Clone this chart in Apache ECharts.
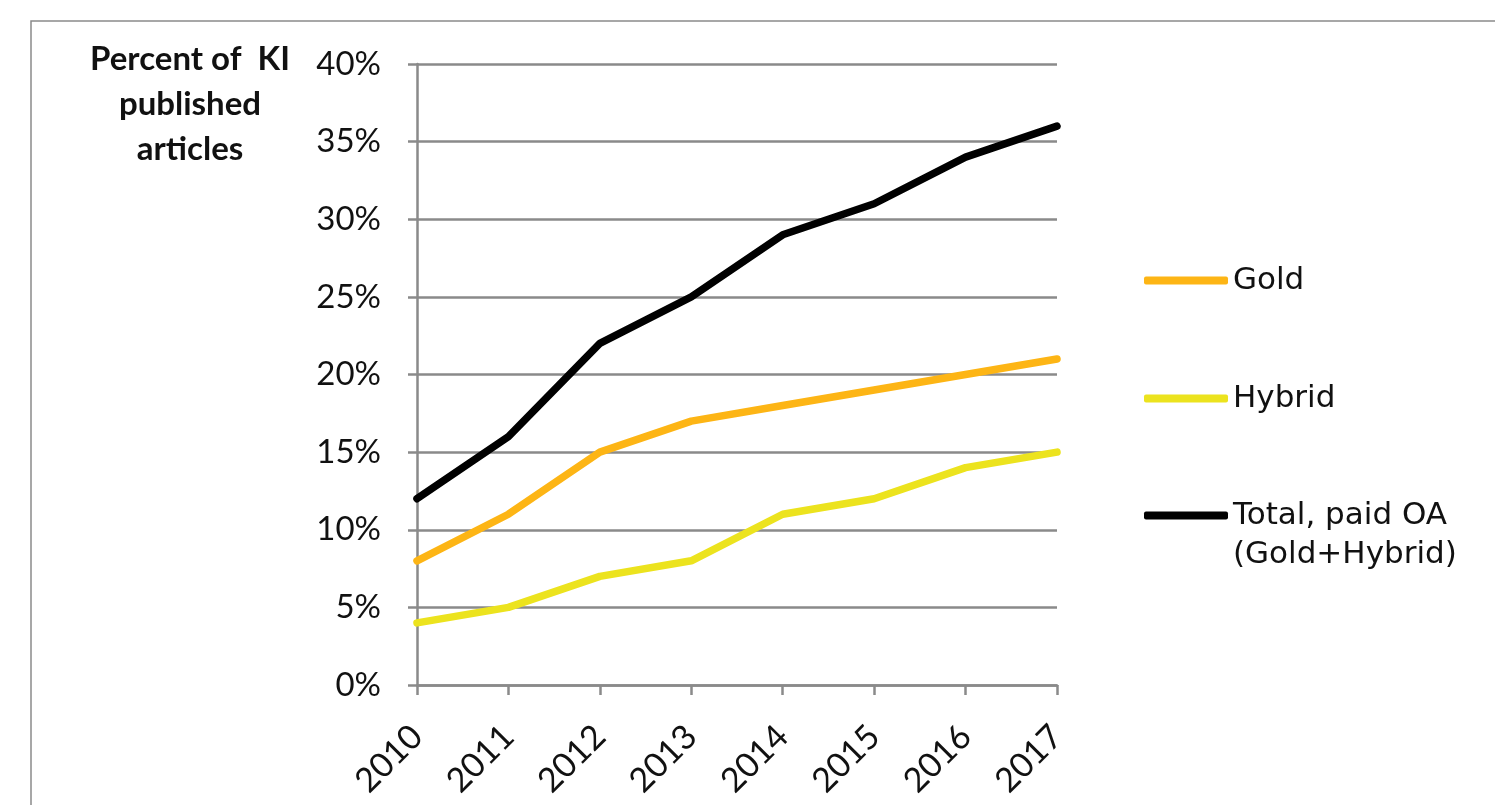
<!DOCTYPE html>
<html><head><meta charset="utf-8">
<script src="https://cdn.jsdelivr.net/npm/echarts@6/dist/echarts.min.js"></script>
<style>html,body{margin:0;padding:0;background:#fff}#c{width:1495px;height:805px}</style>
</head><body><div id="c"></div>
<script>
const years = ['2010','2011','2012','2013','2014','2015','2016','2017'];
const gold = [8, 11, 15, 17, 18, 19, 20, 21];
const hybrid = [4, 5, 7, 8, 11, 12, 14, 15];
const total = [12, 16, 22, 25, 29, 31, 34, 36];
const yTicks = [0, 5, 10, 15, 20, 25, 30, 35, 40];
const seriesNames = ['Gold', 'Hybrid', 'Total, paid OA\n(Gold+Hybrid)'];

const chart = echarts.init(document.getElementById('c'));
const legendText = {fontFamily: 'DejaVu Sans', fontSize: 31, color: '#111', lineHeight: 39};
function mkLegend(name, top, fmt) {
  return {
    orient: 'vertical', left: 1144, top: top, data: [name],
    icon: 'roundRect', itemWidth: 84, itemHeight: 8, itemGap: 0,
    textStyle: legendText, padding: 0, selectedMode: false,
    formatter: fmt
  };
}
chart.setOption({
  animation: false,
  grid: {left: 417, right: 438, top: 64, bottom: 120, containLabel: false},
  graphic: [
    {type: 'rect', shape: {x: 31, y: 21, width: 1600, height: 1000},
     style: {fill: 'none', stroke: '#8a8a8a', lineWidth: 1.5}, silent: true},
    {type: 'text', style: {
      text: 'Percent of  KI\npublished\narticles', x: 190, y: 37, align: 'center',
      font: 'bold 33px Lato', lineHeight: 45, fill: '#111'}}
  ],
  legend: [
    mkLegend(seriesNames[0], 261),
    mkLegend(seriesNames[1], 379),
    mkLegend(seriesNames[2], 457, function (n) { return ' \n' + n; })
  ],
  xAxis: {
    type: 'category', data: years, boundaryGap: false,
    axisLine: {lineStyle: {color: '#8a8a8a', width: 2.5}},
    axisTick: {show: true, length: 10, alignWithLabel: true, lineStyle: {color: '#8a8a8a', width: 2.5}},
    axisLabel: {rotate: 45, margin: 46, fontFamily: 'Lato', fontSize: 34, color: '#111', interval: 0}
  },
  yAxis: {
    type: 'value', min: yTicks[0], max: yTicks[yTicks.length - 1], interval: 5,
    axisLine: {show: true, lineStyle: {color: '#8a8a8a', width: 2.5}},
    axisTick: {show: true, length: 9, lineStyle: {color: '#8a8a8a', width: 2.5}},
    splitLine: {lineStyle: {color: '#8a8a8a', width: 2.5}},
    axisLabel: {formatter: '{value}%', margin: 36, fontFamily: 'Lato', fontSize: 33, color: '#111'}
  },
  series: [
    {name: seriesNames[0], type: 'line', data: gold, symbol: 'none', color: '#FDB515',
     lineStyle: {width: 7.5, color: '#FDB515', cap: 'round'}, itemStyle: {color: '#FDB515'}},
    {name: seriesNames[1], type: 'line', data: hybrid, symbol: 'none', color: '#ECE31E',
     lineStyle: {width: 7.5, color: '#ECE31E', cap: 'round'}, itemStyle: {color: '#ECE31E'}},
    {name: seriesNames[2], type: 'line', data: total, symbol: 'none', color: '#000',
     lineStyle: {width: 7.5, color: '#000', cap: 'round'}, itemStyle: {color: '#000'}}
  ]
});
</script></body></html>
